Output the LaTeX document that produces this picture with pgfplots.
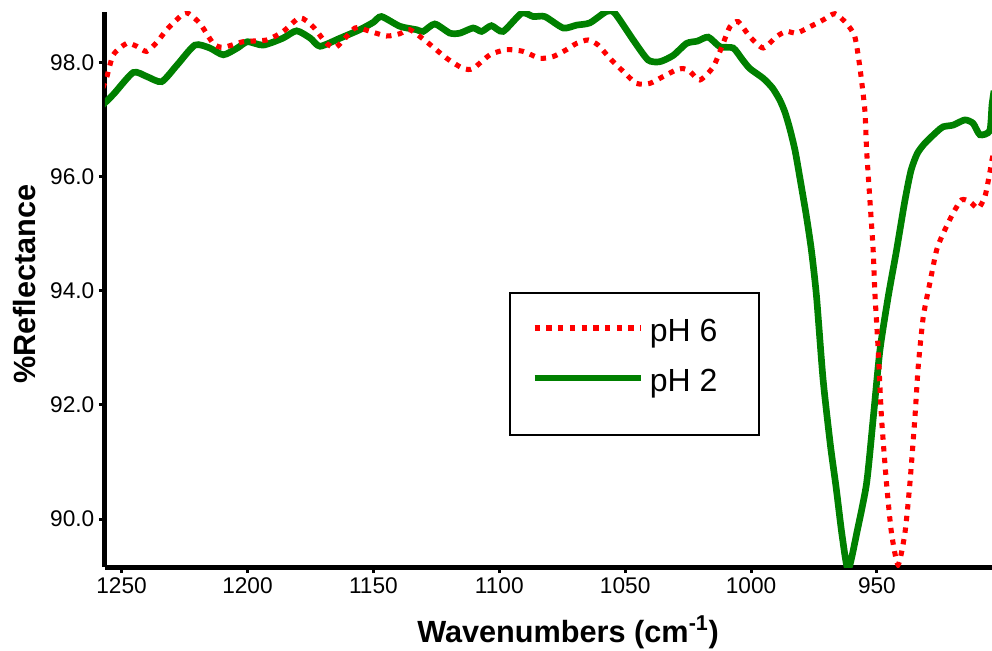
\documentclass[border=0pt]{standalone}
\usepackage{pgfplots}
\pgfplotsset{compat=1.18}
\usepackage{fontspec}
\setmainfont{Liberation Sans}
\definecolor{pgreen}{RGB}{0,128,0}
\definecolor{pred}{RGB}{255,0,0}
\begin{document}
\begin{tikzpicture}
\begin{axis}[
  name=ax, at={(0,0)}, anchor=south west,
  scale only axis, width=665.25pt, height=416.25pt,
  x dir=reverse,
  xmin=904.3, xmax=1256.6, ymin=89.16, ymax=98.88,
  axis lines=left,
  axis line style={-, line width=3.75pt, black},
  tick align=outside,
  major tick length=4.5pt,
  tick style={line width=2.2pt, black},
  xtick={950,1000,1050,1100,1150,1200,1250},
  ytick={90,92,94,96,98},
  /pgf/number format/assume math mode=true,
  tick label style={font=\fontsize{17}{20}\selectfont},
  xticklabel style={/pgf/number format/1000 sep={}},
  yticklabel style={/pgf/number format/.cd, fixed, fixed zerofill, precision=1},
  xlabel={\textbf{Wavenumbers (cm\textsuperscript{-1})}},
  ylabel={\textbf{\%Reflectance}},
  every axis x label/.style={at={(axis description cs:0.522,-0.117)}, anchor=center, font=\fontsize{23}{27}\selectfont},
  every axis y label/.style={at={(axis description cs:-0.0902,0.51)}, anchor=center, rotate=90, font=\fontsize{23}{27}\selectfont},
  reverse legend,
  legend image code/.code={\draw[#1] (0pt,0pt) -- (79.5pt,0pt);},
  legend style={at={(axis description cs:0.4803,0.3856)}, anchor=west, draw=none, fill=none,
    inner sep=0pt, row sep=9.5pt,
    font=\fontsize{24}{28}\selectfont,
    nodes={inner sep=0pt, text height=24pt, text depth=4pt},
    /tikz/every odd column/.append style={column sep=4.5pt}},
  legend cell align=left,
]
\addplot[pgreen, line width=5pt, smooth, tension=0.4] coordinates {
(1257.5,97.25) (1256.6,97.29) (1253,97.45) (1245.4,97.82) (1240,97.75) (1234.1,97.66)
(1228,97.95) (1220.9,98.30) (1215,98.25) (1209.6,98.13) (1204,98.25) (1200,98.36)
(1193.8,98.30) (1186,98.42) (1180.5,98.55) (1175,98.42) (1171.2,98.28) (1163.3,98.42)
(1155.4,98.57) (1150,98.70) (1146.8,98.80) (1139.5,98.63) (1132.9,98.57) (1130.2,98.54)
(1125.6,98.67) (1119.6,98.51) (1115.6,98.51) (1110.4,98.60) (1107.0,98.54) (1103.1,98.64)
(1098.5,98.54) (1091.1,98.86) (1086.5,98.80) (1081.9,98.80) (1074.6,98.60) (1069.3,98.65)
(1064.0,98.69) (1057.4,98.89) (1054.1,98.86) (1046.8,98.39) (1040.9,98.04) (1036.2,98.01)
(1030.9,98.12) (1025.6,98.33) (1021.3,98.37) (1017.0,98.44) (1012.3,98.27) (1007.1,98.25)
(1003.5,98.05) (1000.5,97.89) (995.2,97.72) (991.5,97.55) (988.6,97.34) (986.5,97.12)
(984.5,96.82) (982.5,96.45) (980.5,95.95) (978.0,95.30) (976.0,94.70)
(974.0,93.90) (971.4,92.45) (968.5,91.30) (966.2,90.55) (963.8,89.70) (961.4,89.12)
(957.8,89.80) (954.1,90.63) (951.4,91.80) (948.8,92.96) (945.5,93.90) (942.2,94.71)
(939.0,95.55) (936.5,96.10) (934.0,96.40) (931.0,96.58) (926.3,96.78) (923.7,96.87) (919.7,96.90)
(915.1,96.99) (911.8,96.93) (909.1,96.73) (905.2,96.80) (904.3,97.25) (903.5,97.5)
};
\addlegendentry{pH 2}
\addplot[pred, line width=3.8pt, dash pattern=on 4pt off 4.8pt, smooth, tension=0.4] coordinates {
(1257.5,97.55) (1256.0,97.72) (1253.3,98.13) (1248.0,98.33) (1244,98.28) (1240.1,98.19)
(1236,98.35) (1232.1,98.57) (1228,98.75) (1224.2,98.87) (1218.9,98.68) (1213.6,98.33)
(1209.6,98.26) (1201.7,98.36) (1192.4,98.39) (1185.8,98.54) (1179.2,98.78) (1173.9,98.62)
(1168.6,98.33) (1164.6,98.27) (1157.3,98.60) (1152.7,98.56) (1144.8,98.46) (1139.5,98.50)
(1135.5,98.57) (1128.9,98.36) (1120.9,98.07) (1114.3,97.89) (1110.4,97.89) (1103.7,98.13)
(1097.1,98.22) (1090.5,98.19) (1083.9,98.07) (1078.6,98.10) (1073.3,98.22) (1069.3,98.33)
(1064.7,98.39) (1060.7,98.30) (1056.1,98.07) (1050.8,97.84) (1045.5,97.63) (1040.2,97.63)
(1034.9,97.75) (1030,97.86) (1027.0,97.89) (1024.3,97.84) (1020.3,97.69) (1015.0,97.92)
(1011.1,98.33) (1008.4,98.62) (1005.1,98.71) (1000.5,98.45) (995.2,98.25) (989.9,98.45)
(985.9,98.54) (981.9,98.51) (976.7,98.62) (971.4,98.74) (966.7,98.85) (962.1,98.68)
(958.8,98.45) (956.8,97.92) (954.8,97.16) (954.1,96.46) (952.8,95.59) (951.5,94.71)
(950.8,93.95) (949.5,92.96) (948.2,91.79) (946.2,90.63) (944.2,89.75) (941.6,89.20)
(938.9,89.75) (936.9,90.63) (934.9,91.79) (933.6,92.67) (931.6,93.54) (929.0,94.13)
(926.3,94.71) (923.7,95.00) (919.7,95.36) (916.4,95.59) (913.1,95.56) (909.8,95.44)
(907.1,95.65) (905.2,96.06) (904.3,96.29) (903.5,96.45)
};
\addlegendentry{pH 6}
\draw[line width=1.2pt, black] (axis description cs:0.4566,0.4937) rectangle (axis description cs:0.7373,0.2378);
\end{axis}
\pgfresetboundingbox
\path[use as bounding box] (-78.75pt,-62.25pt) rectangle (665.25pt,425.25pt);
\end{tikzpicture}
\end{document}
